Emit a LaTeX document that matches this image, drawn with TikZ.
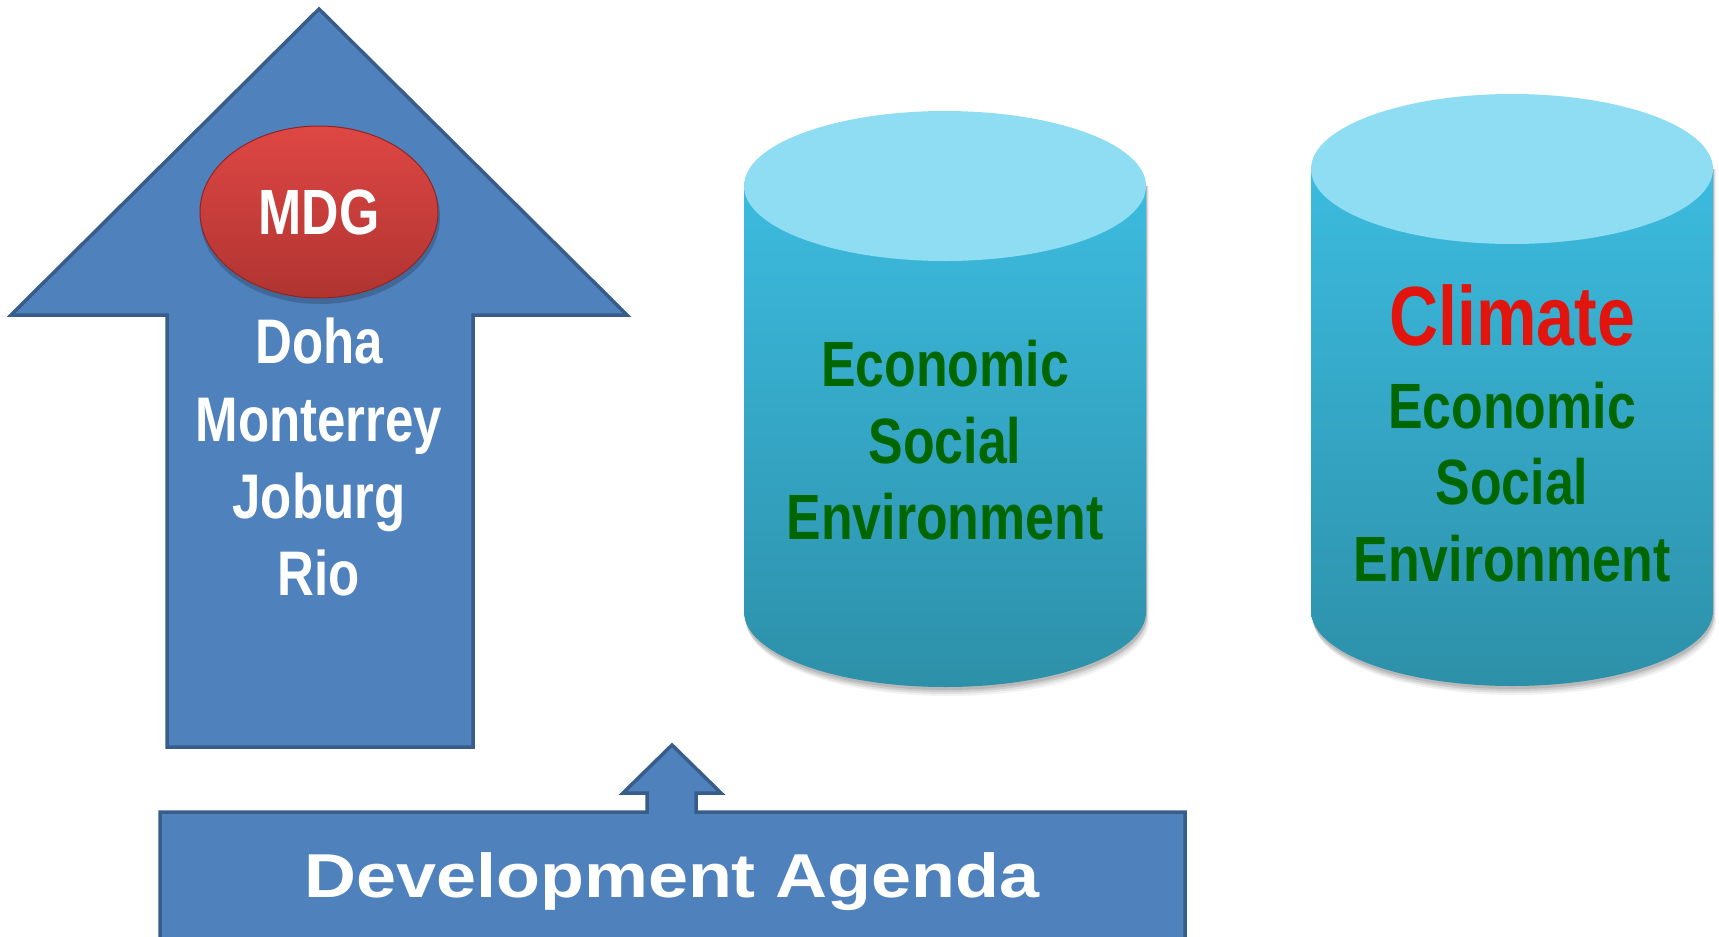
\documentclass[tikz,border=0pt]{standalone}
\usepackage{fontspec}
\newfontfamily\condbf[FakeStretch=0.81]{Liberation Sans Bold}
\newfontfamily\widebf[FakeStretch=1.16]{Liberation Sans Bold}
\usetikzlibrary{shapes.geometric}
\definecolor{arrowblue}{HTML}{4F81BD}
\definecolor{arrowedge}{HTML}{385D8A}
\definecolor{capcyan}{HTML}{8EDDF2}
\definecolor{bodytop}{HTML}{3CBBDF}
\definecolor{bodybot}{HTML}{2D90A9}
\definecolor{pillartext}{HTML}{006600}
\definecolor{climatered}{HTML}{E2140E}
\definecolor{mdgtop}{HTML}{DE4744}
\definecolor{mdgbot}{HTML}{B03431}
\definecolor{mdgedge}{HTML}{8E2624}

% a pillar: shaded body, light cap, soft shadow below
% #1 = centre x, #2 = cap centre y, #3 = base centre y
% (y axis points down, so the lower half of the base runs from 180 to 0 degrees)
\newcommand{\pillar}[3]{%
  \foreach \dx/\dy/\op in {3/9/0.05,2/7/0.07,1/5/0.09,1/3/0.10}{%
    \fill[black,opacity=\op]
      ({#1-201+\dx},#2) -- ({#1-201+\dx},{#3+\dy})
      arc[start angle=180,end angle=0,x radius=201,y radius=75]
      -- ({#1+201+\dx},#2) -- cycle;}
  \shade[top color=bodytop,bottom color=bodybot]
    ({#1-201},#2) -- ({#1-201},#3)
    arc[start angle=180,end angle=0,x radius=201,y radius=75]
    -- ({#1+201},#2) -- cycle;
  \fill[capcyan] (#1,#2) ellipse[x radius=201,y radius=75];
}

\begin{document}
\begin{tikzpicture}[x=1pt,y=-1pt,
  blockarrow/.style={fill=arrowblue,draw=arrowedge,line width=3.5pt,line join=miter},
  whitelabel/.style={font=\condbf\fontsize{63}{63}\selectfont,text=white,
    anchor=base,inner sep=0pt},
  pillarlabel/.style={font=\condbf\fontsize{64}{64}\selectfont,text=pillartext,
    anchor=base,inner sep=0pt},
  goalbadge/.style={ellipse,minimum width=238pt,minimum height=172pt,inner sep=0pt,
    top color=mdgtop,bottom color=mdgbot,draw=mdgedge,line width=1pt,
    text=white,font=\condbf\fontsize{64}{64}\selectfont}]
\useasboundingbox (0,0) rectangle (1719,937);
\clip (0,0) rectangle (1719,937);

% large upward arrow
\draw[blockarrow] (319,9) -- (627,315) -- (473,315) -- (473,747)
  -- (167,747) -- (167,315) -- (11,315) -- cycle;

% MDG badge with its shadow
\fill[black,opacity=0.18] (320,217) ellipse[x radius=120,y radius=87];
\node[goalbadge] (mdg) at (319,212) {MDG};

% conferences listed in the arrow
\node[whitelabel] (doha) at (319,363) {Doha};
\node[whitelabel] (monterrey) at (319,441) {Monterrey};
\node[whitelabel] (joburg) at (319,518) {Joburg};
\node[whitelabel] (rio) at (319,595) {Rio};

% development agenda bar with its small arrow
\draw[blockarrow] (160,812) -- (647,812) -- (647,793) -- (623,793) -- (672,745)
  -- (721,793) -- (696,793) -- (696,812) -- (1185,812) -- (1185,960)
  -- (160,960) -- cycle;
\node[font=\widebf\fontsize{62}{62}\selectfont,text=white,anchor=base,inner sep=0pt]
  (agenda) at (672,897) {Development Agenda};

% three-pillar cylinder
\pillar{945}{186}{612}
\node[pillarlabel] (econA) at (945,386) {Economic};
\node[pillarlabel] (socA) at (945,463) {Social};
\node[pillarlabel] (envA) at (945,539) {Environment};

% four-pillar cylinder
\pillar{1512}{169}{611}
\node[font=\condbf\fontsize{84}{84}\selectfont,text=climatered,anchor=base,inner sep=0pt]
  (climate) at (1512,345) {Climate};
\node[pillarlabel] (econB) at (1512,428) {Economic};
\node[pillarlabel] (socB) at (1512,504) {Social};
\node[pillarlabel] (envB) at (1512,581) {Environment};
\end{tikzpicture}
\end{document}
